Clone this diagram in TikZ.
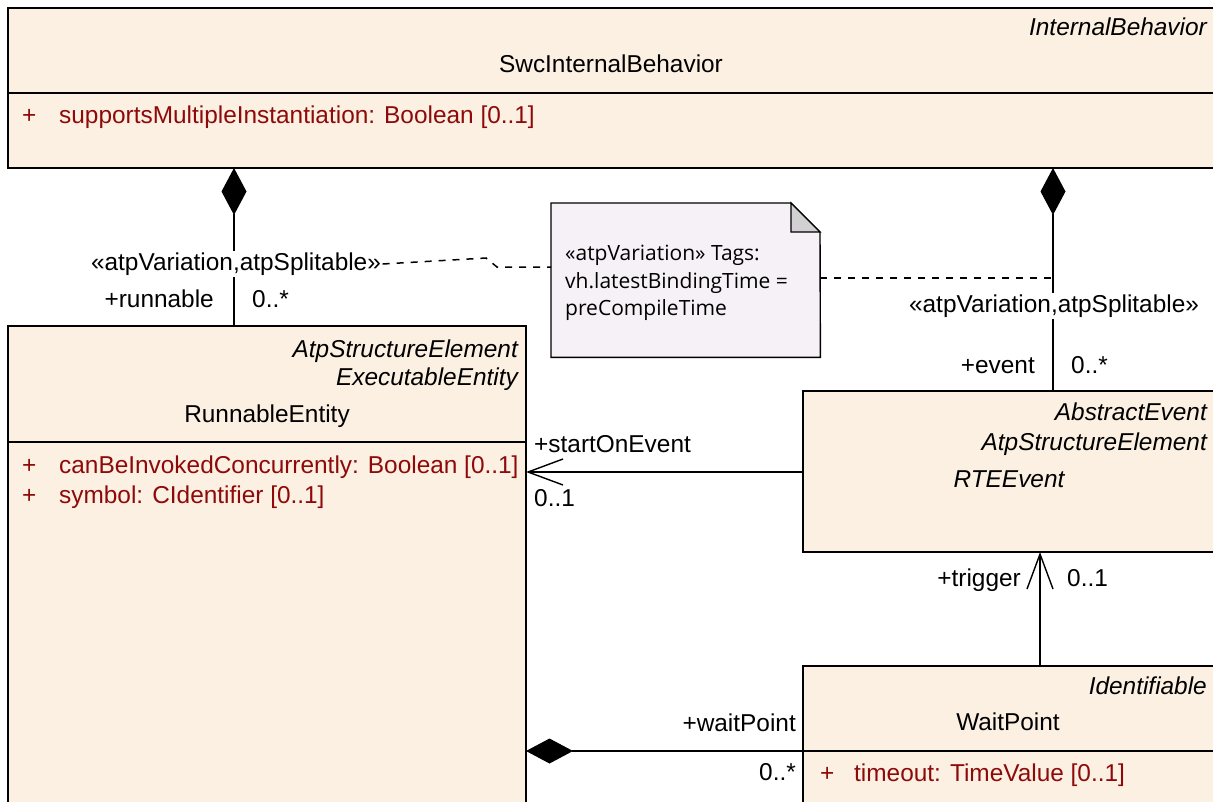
\documentclass[tikz,border=0pt]{standalone}
\usepackage{fontspec}
\setmainfont{Liberation Sans}
\newfontfamily\notefont{Open Sans}
\usetikzlibrary{arrows.meta,calc}
\definecolor{boxfill}{HTML}{FBF0E2}
\definecolor{attr}{HTML}{8E0A0A}
\definecolor{notefill}{HTML}{F6F1F6}
\definecolor{foldfill}{HTML}{D2D0D2}
\begin{document}
\begin{tikzpicture}[x=1pt,y=-1pt,
  cls/.style={draw, line width=1.4pt, fill=boxfill, anchor=north west, inner sep=0pt, outer sep=0pt},
  sepline/.style={line width=1.4pt},
  txt/.style={font=\fontsize{24.4}{28}\selectfont, inner sep=0pt, yshift=-6pt},
  itx/.style={font=\fontsize{24.4}{28}\selectfont\itshape, inner sep=0pt, yshift=-6pt},
  atx/.style={txt, text=attr},
  ntx/.style={font=\notefont\fontsize{21}{24}\selectfont, inner sep=0pt, anchor=mid west, yshift=-5pt},
  stereo/.style={txt, fill=white, inner sep=1.5pt},
  assoc/.style={line width=1.4pt},
  comp/.style={assoc, {Diamond[length=47pt,width=25pt]}-},
  nav/.style={assoc, -{Straight Barb[length=35pt,width=26pt,line width=1.4pt]}},
  anchorline/.style={line width=1.5pt, dash pattern=on 7pt off 7pt}
]
\useasboundingbox (0,0) rectangle (1213,801);
\clip (0,0) rectangle (1213,801);

% SwcInternalBehavior
\node[cls, minimum width=1220pt, minimum height=160pt] (swc) at (8,8) {};
\draw[sepline] (8,93) -- (1220,93);
\node[itx, anchor=mid east] (swcst) at (1207,27) {InternalBehavior};
\node[txt, anchor=mid] (swcname) at (611,64) {SwcInternalBehavior};
\node[atx, anchor=mid west] (swcp) at (22,115) {+};
\node[atx, anchor=mid west] (swca) at (59,115) {supportsMultipleInstantiation: Boolean [0..1]};

% RunnableEntity
\node[cls, minimum width=518pt, minimum height=500pt] (run) at (8,326) {};
\draw[sepline] (8,442) -- (526,442);
\node[itx, anchor=mid east] (runst1) at (518,349) {AtpStructureElement};
\node[itx, anchor=mid east] (runst2) at (518,377) {ExecutableEntity};
\node[txt, anchor=mid] (runname) at (267,414) {RunnableEntity};
\node[atx, anchor=mid west] (runp1) at (22,465) {+};
\node[atx, anchor=mid west] (runa1) at (59,465) {canBeInvokedConcurrently: Boolean [0..1]};
\node[atx, anchor=mid west] (runp2) at (22,495) {+};
\node[atx, anchor=mid west] (runa2) at (59,495) {symbol: CIdentifier [0..1]};

% RTEEvent
\node[cls, minimum width=430pt, minimum height=161pt] (rte) at (803,391) {};
\node[itx, anchor=mid east] (rtest1) at (1207,412) {AbstractEvent};
\node[itx, anchor=mid east] (rtest2) at (1207,442) {AtpStructureElement};
\node[itx, anchor=mid] (rtename) at (1009,479) {RTEEvent};

% WaitPoint
\node[cls, minimum width=430pt, minimum height=200pt] (wp) at (803,666) {};
\draw[sepline] (803,751) -- (1220,751);
\node[itx, anchor=mid east] (wpst) at (1207,686) {Identifiable};
\node[txt, anchor=mid] (wpname) at (1008,722) {WaitPoint};
\node[atx, anchor=mid west] (wpp) at (820,773) {+};
\node[atx, anchor=mid west] (wpa) at (854,773) {timeout: TimeValue [0..1]};

% Note
\node[anchor=north west, minimum width=269pt, minimum height=154pt, inner sep=0pt] (note) at (551,203) {};
\draw[line width=1.4pt, fill=notefill] (note.north west) -- ++(240,0) -- ++(29,29) -- (note.south east) -- (note.south west) -- cycle;
\draw[line width=1.4pt, fill=foldfill] ($(note.north west)+(240,0)$) -- ++(0,29) -- ++(29,0) -- cycle;
\node[ntx] (n1) at (565,253) {«atpVariation» Tags:};
\node[ntx] (n2) at (565,281) {vh.latestBindingTime =};
\node[ntx] (n3) at (565,308) {preCompileTime};

% Compositions from SwcInternalBehavior
\draw[comp] ($(swc.south west)+(226,0)$) -- ($(run.north west)+(226,0)$);
\draw[comp] ($(swc.south west)+(1045,0)$) -- ($(rte.north west)+(250,0)$);
\node[stereo] (lblL) at (236,258) {«atpVariation,atpSplitable»};
\node[stereo] (lblR) at (1054,300) {«atpVariation,atpSplitable»};
\node[txt, anchor=mid east] (rrole) at (214,299) {+runnable};
\node[txt, anchor=mid west] (rmult) at (252,299) {0..*};
\node[txt, anchor=mid east] (erole) at (1035,365) {+event};
\node[txt, anchor=mid west] (emult) at (1071,365) {0..*};

% note anchors
\coordinate (rj) at ($(swc.south west)+(1045,110)$);
\draw[anchorline] (lblL.east) -- (486,258) -- (497,267) -- ($(note.north west)+(0,64)$);
\draw[anchorline] ($(note.north east)+(0,75)$) -- (rj);

% startOnEvent
\draw[nav] ($(rte.north west)+(0,81)$) -- ($(run.north east)+(0,146)$);
\node[txt, anchor=mid west] (sorole) at (534,444) {+startOnEvent};
\node[txt, anchor=mid west] (somult) at (534,498) {0..1};

% trigger
\draw[nav] ($(wp.north west)+(237,0)$) -- ($(rte.south west)+(237,0)$);
\node[txt, anchor=mid east] (trole) at (1021,578) {+trigger};
\node[txt, anchor=mid west] (tmult) at (1067,578) {0..1};

% waitPoint composition
\draw[comp] ($(run.north east)+(0,425)$) -- ($(wp.north west)+(0,85)$);
\node[txt, anchor=mid east] (wrole) at (796,723) {+waitPoint};
\node[txt, anchor=mid east] (wmult) at (796,772) {0..*};
\end{tikzpicture}
\end{document}
